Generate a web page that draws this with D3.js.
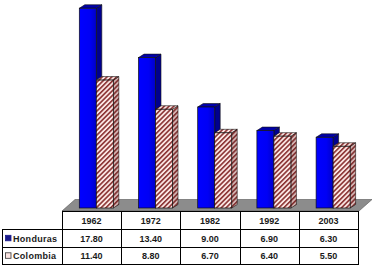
<!DOCTYPE html>
<html><head><meta charset="utf-8">
<script src="https://cdn.jsdelivr.net/npm/d3@7"></script>
<style>body{margin:0;background:#fff}svg{display:block}</style>
</head><body>
<script>
const years = ["1962","1972","1982","1992","2003"];
const seriesNames = ["Honduras","Colombia"];
const honduras = [17.80, 13.40, 9.00, 6.90, 6.30];
const colombia = [11.40, 8.80, 6.70, 6.40, 5.50];
const labels = { Honduras: ["17.80","13.40","9.00","6.90","6.30"], Colombia: ["11.40","8.80","6.70","6.40","5.50"] };

const W = 374, H = 266;
const svg = d3.select("body").append("svg").attr("width", W).attr("height", H);
const defs = svg.append("defs");
const pat = defs.append("pattern").attr("id","hatch").attr("patternUnits","userSpaceOnUse")
  .attr("width",3.4).attr("height",3.4).attr("patternTransform","rotate(45)");
pat.append("rect").attr("width",3.4).attr("height",3.4).attr("fill","#fbe6e4");
pat.append("line").attr("x1",0.8).attr("y1",0).attr("x2",0.8).attr("y2",3.4).attr("stroke","#8a3232").attr("stroke-width",1.6);
const grad = defs.append("linearGradient").attr("id","blue").attr("x1","0").attr("x2","1").attr("y1","0").attr("y2","0");
grad.append("stop").attr("offset","0").attr("stop-color","#0000ff");
grad.append("stop").attr("offset","0.6").attr("stop-color","#0000f5");
grad.append("stop").attr("offset","1").attr("stop-color","#0000c8");

const tableLeft = 62, tableRight = 358;
const x0 = d3.scaleBand().domain(years).range([tableLeft, tableRight]).paddingInner(0).paddingOuter(0);
const x1 = d3.scaleBand().domain(seriesNames).range([17.3, 51.3]);
const base = 208;
const y = d3.scaleLinear().domain([0, 18]).range([base, 6]);
const dx = 5.5, dy = 3.5;

// floor
const floorTop = 199.5, floorBot = 211;
svg.append("polygon")
  .attr("points", [[tableLeft, floorBot],[tableRight+1, floorBot],[372, floorTop],[75, floorTop]].map(p=>p.join(",")).join(" "))
  .attr("fill","#8c8c8c").attr("stroke","#555").attr("stroke-width",0.6);

const data = [];
years.forEach((yr,i)=>{
  data.push({yr, s:"Honduras", v:honduras[i]});
  data.push({yr, s:"Colombia", v:colombia[i]});
});

const g = svg.append("g");
data.forEach(d=>{
  const x = x0(d.yr) + x1(d.s), w = x1.bandwidth(), yt = y(d.v);
  const isH = d.s === "Honduras";
  const bg = g.append("g");
  bg.append("polygon")
    .attr("points", [[x+w,yt],[x+w+dx,yt-dy],[x+w+dx,base-dy],[x+w,base]].map(p=>p.join(",")).join(" "))
    .attr("fill", isH ? "#00008e" : "url(#hatch)").attr("stroke","#111").attr("stroke-width",0.6);
  if(!isH) bg.append("polygon")
    .attr("points", [[x+w,yt],[x+w+dx,yt-dy],[x+w+dx,base-dy],[x+w,base]].map(p=>p.join(",")).join(" "))
    .attr("fill","#5a2020").attr("fill-opacity",0.25);
  bg.append("polygon")
    .attr("points", [[x,yt],[x+dx,yt-dy],[x+w+dx,yt-dy],[x+w,yt]].map(p=>p.join(",")).join(" "))
    .attr("fill", isH ? "#0000a8" : "url(#hatch)").attr("stroke","#111").attr("stroke-width",0.6);
  bg.append("rect").attr("x",x).attr("y",yt).attr("width",w).attr("height",base-yt)
    .attr("fill", isH ? "url(#blue)" : "url(#hatch)").attr("stroke","#111").attr("stroke-width",0.7);
});

// table
const rows = [211.5, 229.5, 247.5, 264.5];
const tg = svg.append("g").attr("fill","none").attr("stroke","#000").attr("stroke-width",1);
tg.append("rect").attr("x",tableLeft+0.5).attr("y",rows[0]).attr("width",tableRight-tableLeft).attr("height",rows[1]-rows[0]);
tg.append("rect").attr("x",2.5).attr("y",rows[1]).attr("width",tableRight-2).attr("height",rows[3]-rows[1]);
tg.append("line").attr("x1",2.5).attr("x2",tableRight+0.5).attr("y1",rows[2]).attr("y2",rows[2]);
years.forEach(yr=>{
  tg.append("line").attr("x1",Math.round(x0(yr))+0.5).attr("x2",Math.round(x0(yr))+0.5).attr("y1",rows[0]).attr("y2",rows[3]);
});

const txt = svg.append("g").attr("font-family","Liberation Sans, Arial, sans-serif").attr("font-weight","bold")
  .attr("font-size","9px").attr("fill","#1a1a1a");
years.forEach(yr=>{
  txt.append("text").attr("x",x0(yr)+x0.bandwidth()/2).attr("y",(rows[0]+rows[1])/2+3.3)
    .attr("text-anchor","middle").text(yr);
});
seriesNames.forEach((s,ri)=>{
  const yc = (rows[ri+1]+rows[ri+2])/2 + 3.3;
  years.forEach((yr,i)=>{
    txt.append("text").attr("x",x0(yr)+x0.bandwidth()/2).attr("y",yc)
      .attr("text-anchor","middle").text(labels[s][i]);
  });
  txt.append("text").attr("x",13).attr("y",yc).attr("letter-spacing","0.3px").text(s);
  svg.append("rect").attr("x",5.5).attr("y",yc-6.5).attr("width",5.5).attr("height",5.5)
    .attr("fill", ri===0 ? "#1a1a8a" : "#fbe4e2").attr("stroke", ri===0 ? "#1a1a8a":"#333").attr("stroke-width",0.8);
});
</script>
</body></html>
